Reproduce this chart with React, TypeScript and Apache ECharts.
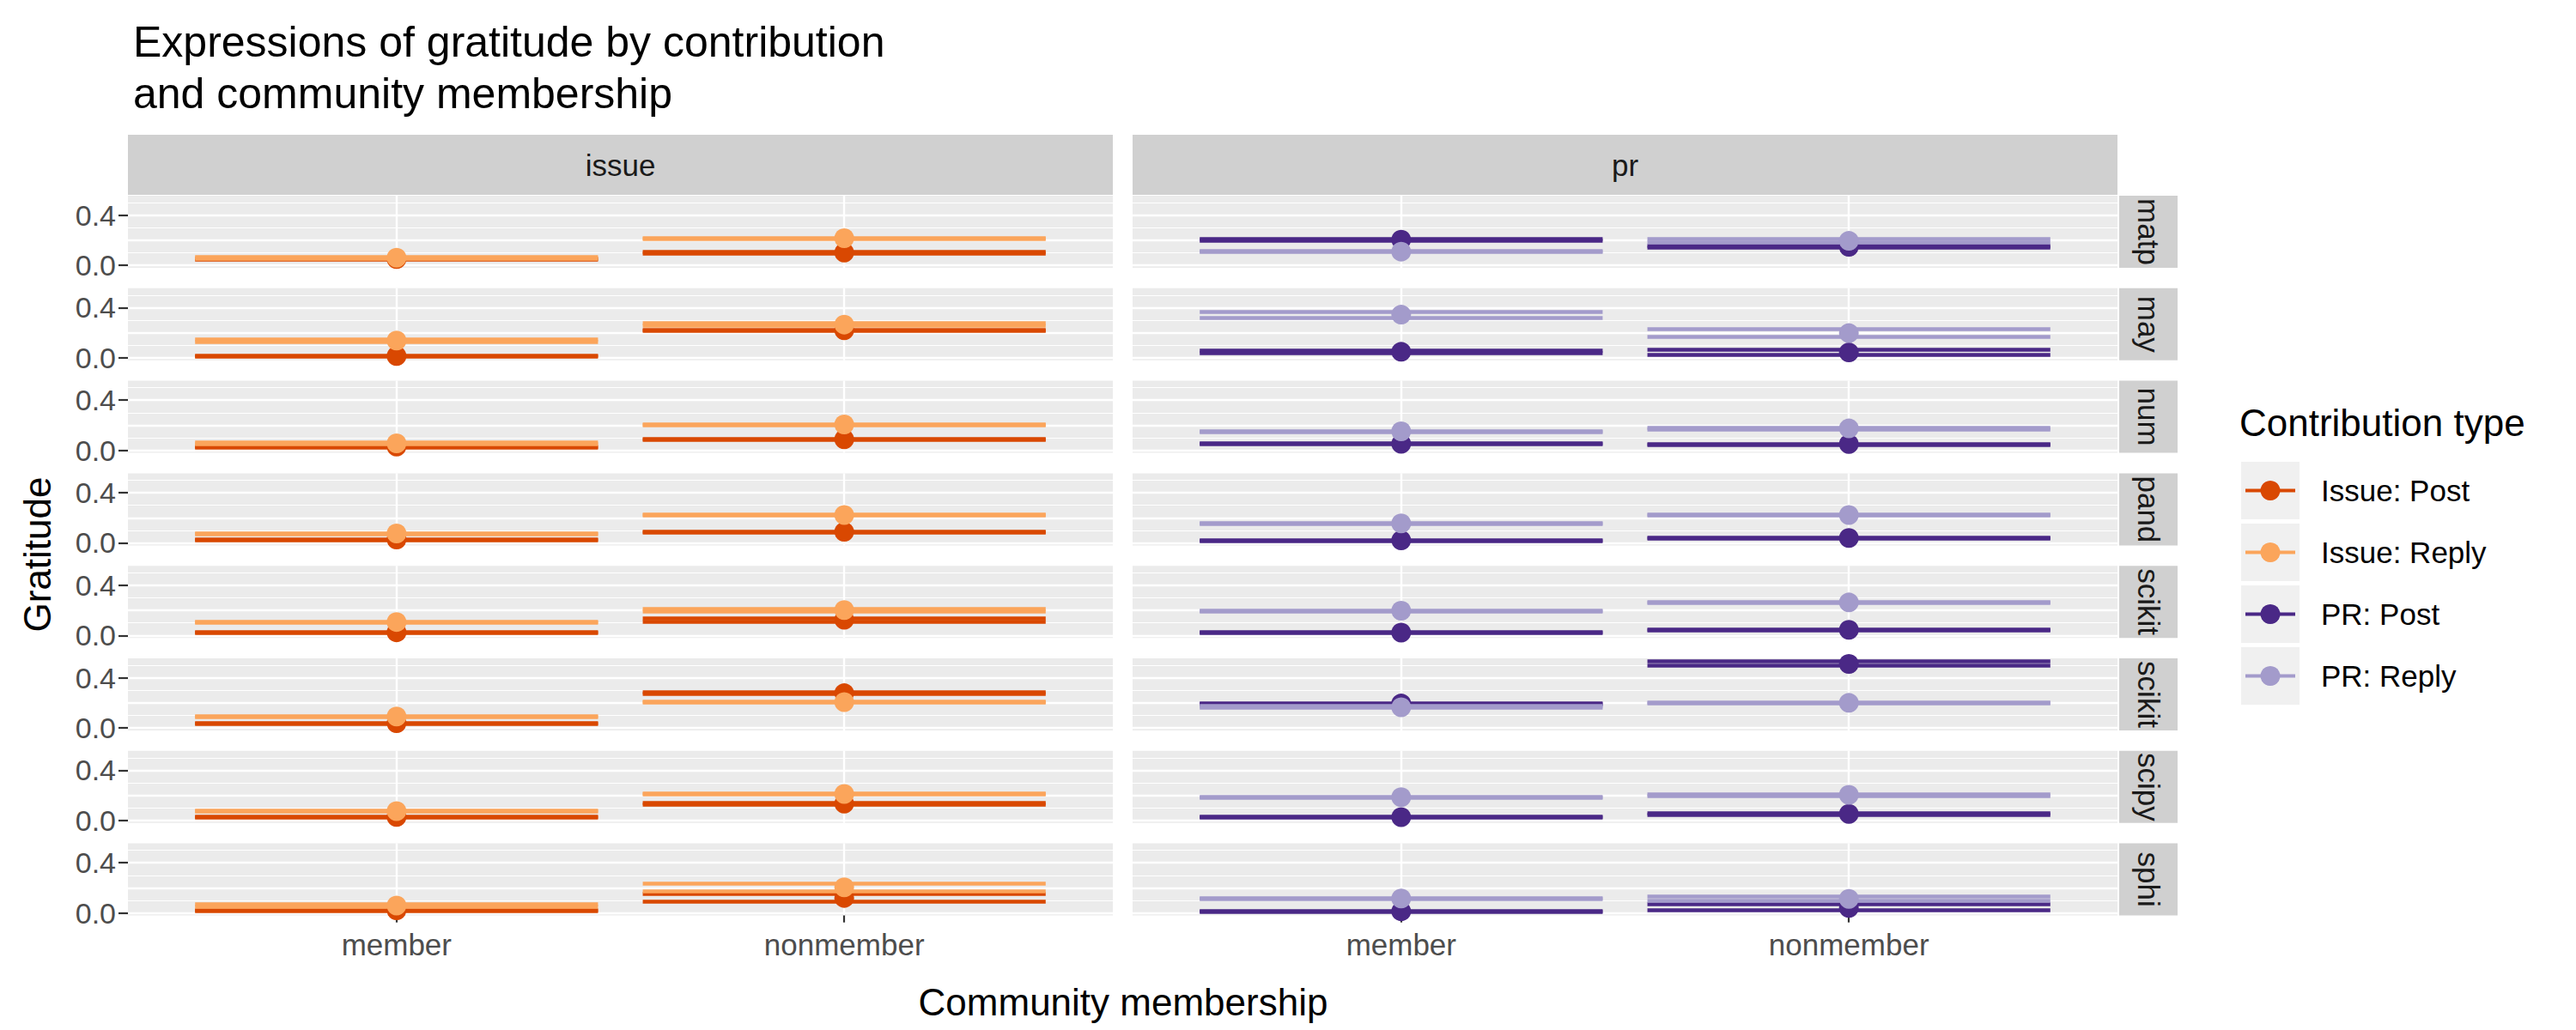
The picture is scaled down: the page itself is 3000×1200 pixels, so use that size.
import React, { useRef, useEffect } from 'react';
import * as echarts from 'echarts';

const repos = ['matplotlib', 'mayavi', 'numpy', 'pandas', 'scikit-image', 'scikit-learn', 'scipy', 'sphinx-gallery'];
const contributions = ['issue', 'pr'];
const memberships = ['member', 'nonmember'];
const yTicks = [0, 0.2, 0.4];
const yMinor = [0.1, 0.3, 0.5];

// [mean, lower, upper] per repo
const issuePostMember = [[0.05, 0.045, 0.055], [0.015, 0.01, 0.016], [0.03, 0.026, 0.032], [0.027, 0.024, 0.03], [0.025, 0.021, 0.026], [0.038, 0.036, 0.041], [0.028, 0.025, 0.03], [0.022, 0.018, 0.024]];
const issuePostNonmember = [[0.102, 0.096, 0.108], [0.22, 0.215, 0.226], [0.088, 0.084, 0.092], [0.088, 0.085, 0.091], [0.125, 0.112, 0.138], [0.277, 0.27, 0.284], [0.134, 0.128, 0.14], [0.12, 0.093, 0.156]];
const issueReplyMember = [[0.061, 0.056, 0.066], [0.138, 0.127, 0.15], [0.056, 0.052, 0.062], [0.075, 0.072, 0.078], [0.107, 0.104, 0.11], [0.091, 0.089, 0.094], [0.075, 0.072, 0.078], [0.059, 0.048, 0.07]];
const issueReplyNonmember = [[0.216, 0.212, 0.22], [0.265, 0.255, 0.28], [0.206, 0.202, 0.21], [0.222, 0.219, 0.225], [0.202, 0.195, 0.209], [0.206, 0.203, 0.209], [0.211, 0.207, 0.215], [0.205, 0.172, 0.233]];
const prPostMember = [[0.204, 0.2, 0.208], [0.048, 0.036, 0.06], [0.052, 0.048, 0.056], [0.02, 0.017, 0.023], [0.023, 0.02, 0.026], [0.195, 0.19, 0.2], [0.027, 0.024, 0.03], [0.014, 0.011, 0.017]];
const prPostNonmember = [[0.147, 0.14, 0.156], [0.043, 0.025, 0.063], [0.05, 0.046, 0.054], [0.039, 0.036, 0.042], [0.045, 0.04, 0.05], [0.51, 0.5, 0.53], [0.052, 0.047, 0.057], [0.04, 0.025, 0.07]];
const prReplyMember = [[0.109, 0.105, 0.113], [0.344, 0.322, 0.367], [0.152, 0.148, 0.156], [0.156, 0.152, 0.16], [0.197, 0.193, 0.201], [0.165, 0.16, 0.175], [0.186, 0.182, 0.19], [0.116, 0.11, 0.122]];
const prReplyNonmember = [[0.195, 0.182, 0.21], [0.197, 0.17, 0.227], [0.175, 0.17, 0.18], [0.222, 0.219, 0.225], [0.263, 0.258, 0.268], [0.2, 0.197, 0.203], [0.204, 0.199, 0.209], [0.113, 0.1, 0.134]];

const types = [
  { name: 'Issue: Post', col: 0, color: '#d94801', data: [issuePostMember, issuePostNonmember] },
  { name: 'Issue: Reply', col: 0, color: '#fba55b', data: [issueReplyMember, issueReplyNonmember] },
  { name: 'PR: Post', col: 1, color: '#4a2886', data: [prPostMember, prPostNonmember] },
  { name: 'PR: Reply', col: 1, color: '#a39bcb', data: [prReplyMember, prReplyNonmember] },
];

const FONT = '"Liberation Sans", Arial, sans-serif';
const panelLeft = [149, 1319];
const panelW = 1147;
const rowTop0 = 228;
const rowStep = 107.8;
const panelH = 84;
const X_MIN = 0.4, X_MAX = 2.6, Y_MIN = -0.02, Y_MAX = 0.555;

const App = () => {
  const ref = useRef(null);

  useEffect(() => {
    document.body.style.margin = '0';
    const chart = echarts.init(ref.current, null, { renderer: 'svg' });
    const grids: any[] = [], xAxes: any[] = [], yAxes: any[] = [], series: any[] = [];
    const graphics: any[] = [];

    repos.forEach((repo, r) => {
      contributions.forEach((c, ci) => {
        const idx = r * 2 + ci;
        const top = rowTop0 + r * rowStep;
        grids.push({ left: panelLeft[ci], top, width: panelW, height: panelH, show: true, backgroundColor: '#ebebeb', borderWidth: 0 });
        const bottom = r === repos.length - 1;
        xAxes.push({
          type: 'value', gridIndex: idx, min: X_MIN, max: X_MAX,
          axisLine: { show: false }, splitLine: { show: false },
          axisTick: { show: bottom, customValues: [1, 2], length: 11, lineStyle: { color: '#333', width: 2.2 } },
          axisLabel: { show: bottom, customValues: [1, 2], formatter: (v: number) => memberships[Math.round(v) - 1], color: '#4d4d4d', fontSize: 35, fontFamily: FONT, margin: 16 },
        });
        yAxes.push({
          type: 'value', gridIndex: idx, min: Y_MIN, max: Y_MAX,
          axisLine: { show: false }, splitLine: { show: false },
          axisTick: { show: ci === 0, customValues: yTicks, length: 11, lineStyle: { color: '#333', width: 2.2 } },
          axisLabel: {
            show: ci === 0, customValues: yTicks, formatter: (v: number) => v.toFixed(1),
            color: '#4d4d4d', fontSize: 34, fontFamily: FONT, margin: 14, lineHeight: 16,
            hideOverlap: false, interval: 0, showMinLabel: true, showMaxLabel: true,
          },
        });
        // grid lines
        series.push({
          type: 'lines', coordinateSystem: 'cartesian2d', xAxisIndex: idx, yAxisIndex: idx, silent: true, z: 1,
          lineStyle: { color: '#ffffff', width: 1.2, opacity: 1 },
          data: yMinor.map((y) => ({ coords: [[X_MIN, y], [X_MAX, y]] })),
        });
        series.push({
          type: 'lines', coordinateSystem: 'cartesian2d', xAxisIndex: idx, yAxisIndex: idx, silent: true, z: 1,
          lineStyle: { color: '#ffffff', width: 2.4, opacity: 1 },
          data: [
            ...yTicks.map((y) => ({ coords: [[X_MIN, y], [X_MAX, y]] })),
            ...[1, 2].map((x) => ({ coords: [[x, Y_MIN], [x, Y_MAX]] })),
          ],
        });
        types.filter((t) => t.col === ci).forEach((t, ti) => {
          const segs: any[] = [];
          const pts: any[] = [];
          t.data.forEach((arr, m) => {
            const [mean, lo, hi] = arr[r];
            const x = m + 1;
            segs.push({ coords: [[x - 0.45, lo], [x + 0.45, lo]] });
            segs.push({ coords: [[x - 0.45, hi], [x + 0.45, hi]] });
            pts.push([x, mean]);
          });
          series.push({
            type: 'lines', coordinateSystem: 'cartesian2d', xAxisIndex: idx, yAxisIndex: idx, silent: true, z: 3 + ti * 2,
            lineStyle: { color: t.color, width: 4.5, opacity: 1 }, data: segs,
          });
          series.push({
            type: 'scatter', xAxisIndex: idx, yAxisIndex: idx, z: 4 + ti * 2, symbolSize: 23,
            itemStyle: { color: t.color, opacity: 1 }, data: pts,
          });
        });
        if (ci === 1) {
          graphics.push({ type: 'rect', shape: { x: panelLeft[1] + panelW + 2, y: top, width: 68, height: panelH }, style: { fill: '#d0d0d0' } });
          graphics.push({
            type: 'text', x: panelLeft[1] + panelW + 2 + 34, y: top + panelH / 2, rotation: -Math.PI / 2,
            style: { text: repo, fill: '#1a1a1a', fontSize: 35, fontFamily: FONT, align: 'center', verticalAlign: 'middle', width: panelH, overflow: 'truncate', ellipsis: '' },
          });
        }
      });
    });

    contributions.forEach((c, ci) => {
      graphics.push({ type: 'rect', shape: { x: panelLeft[ci], y: 157, width: panelW, height: 70 }, style: { fill: '#d0d0d0' } });
      graphics.push({ type: 'text', x: panelLeft[ci] + panelW / 2, y: 192, style: { text: c, fill: '#1a1a1a', fontSize: 35, fontFamily: FONT, align: 'center', verticalAlign: 'middle' } });
    });

    // legend
    graphics.push({ type: 'text', x: 2608, y: 492, style: { text: 'Contribution type', fill: '#000', fontSize: 44, fontFamily: FONT, verticalAlign: 'middle' } });
    types.forEach((t, i) => {
      const y = 538 + i * 72;
      graphics.push({ type: 'rect', shape: { x: 2610, y, width: 68, height: 67 }, style: { fill: '#f0f0f0' } });
      graphics.push({ type: 'line', shape: { x1: 2615, y1: y + 33.5, x2: 2673, y2: y + 33.5 }, style: { stroke: t.color, lineWidth: 4 } });
      graphics.push({ type: 'circle', shape: { cx: 2644, cy: y + 33.5, r: 11.5 }, style: { fill: t.color } });
      graphics.push({ type: 'text', x: 2703, y: y + 33.5, style: { text: t.name, fill: '#000', fontSize: 35, fontFamily: FONT, verticalAlign: 'middle' } });
    });

    chart.setOption({
      animation: false,
      title: {
        text: 'Expressions of gratitude by contribution\nand community membership',
        left: 150, top: 14,
        textStyle: { fontSize: 50, fontWeight: 'normal', color: '#000', fontFamily: FONT, lineHeight: 60 },
      },
      grid: grids, xAxis: xAxes, yAxis: yAxes, series,
      graphic: [
        ...graphics,
        { type: 'text', x: 43, y: 646, rotation: Math.PI / 2, style: { text: 'Gratitude', fill: '#000', fontSize: 44, fontFamily: FONT, align: 'center', verticalAlign: 'middle' } },
        { type: 'text', x: 1308, y: 1167, style: { text: 'Community membership', fill: '#000', fontSize: 44, fontFamily: FONT, align: 'center', verticalAlign: 'middle' } },
      ],
    });
    return () => chart.dispose();
  }, []);

  return <div ref={ref} style={{ width: '3000px', height: '1200px' }} />;
};

export default App;
